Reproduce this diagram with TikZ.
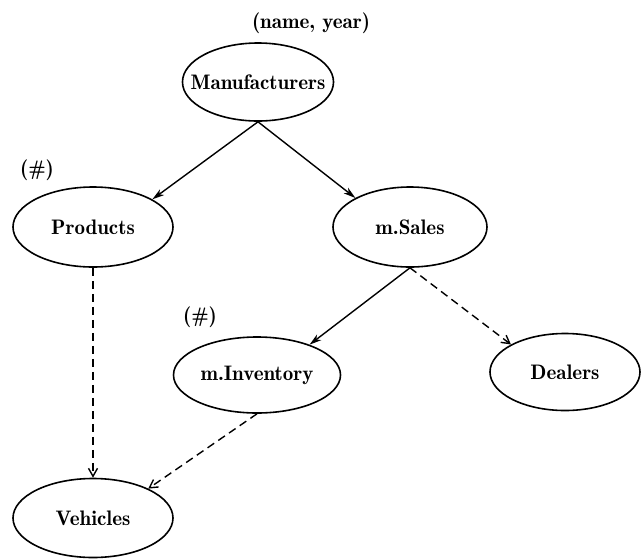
\documentclass[tikz,border=0pt]{standalone}
\usetikzlibrary{shapes.geometric,arrows.meta}
\begin{document}
\begin{tikzpicture}[x=1pt,y=1pt,
  entity/.style={ellipse,draw,line width=1.6pt,inner sep=0pt,
    font=\fontsize{21}{24}\fontseries{b}\selectfont},
  note/.style={inner sep=0pt,font=\fontsize{21}{24}\fontseries{b}\selectfont},
  link/.style={line width=1.4pt,-{Stealth[length=12pt,width=7pt,inset=3.5pt]}},
  weak/.style={line width=1.4pt,dash pattern=on 8pt off 5pt,
    -{Straight Barb[length=8pt,width=9pt]}}]
\useasboundingbox (0,0) rectangle (641,-558);

% entities
\node[entity,minimum width=150pt,minimum height=78pt,inner xsep=-14pt] (M) at (258,-82) {Manufacturers};
\node[entity,minimum width=160pt,minimum height=80pt] (P) at (93,-227) {Products};
\node[entity,minimum width=154pt,minimum height=80pt] (S) at (410,-227) {m.Sales};
\node[entity,minimum width=167pt,minimum height=76pt] (I) at (257,-375) {m.Inventory};
\node[entity,minimum width=150pt,minimum height=77pt] (D) at (565,-372) {Dealers};
\node[entity,minimum width=160pt,minimum height=79pt] (V) at (93,-518) {Vehicles};

% key annotations
\node[note] (kM) at (311,-23) {(name, year)};
\node[note] (kP) at (37,-170) {(\#)};
\node[note] (kI) at (200,-317) {(\#)};

% relationships
\draw[link] (M.south) -- (P.25);
\draw[link] (M.south) -- (S.152);
\draw[link] (S.south) -- (I.30);
\draw[weak] (S.south) -- (D.153);
\draw[weak] (P.south) -- (V.north);
\draw[weak] (I.south) -- (V.28);
\end{tikzpicture}
\end{document}
